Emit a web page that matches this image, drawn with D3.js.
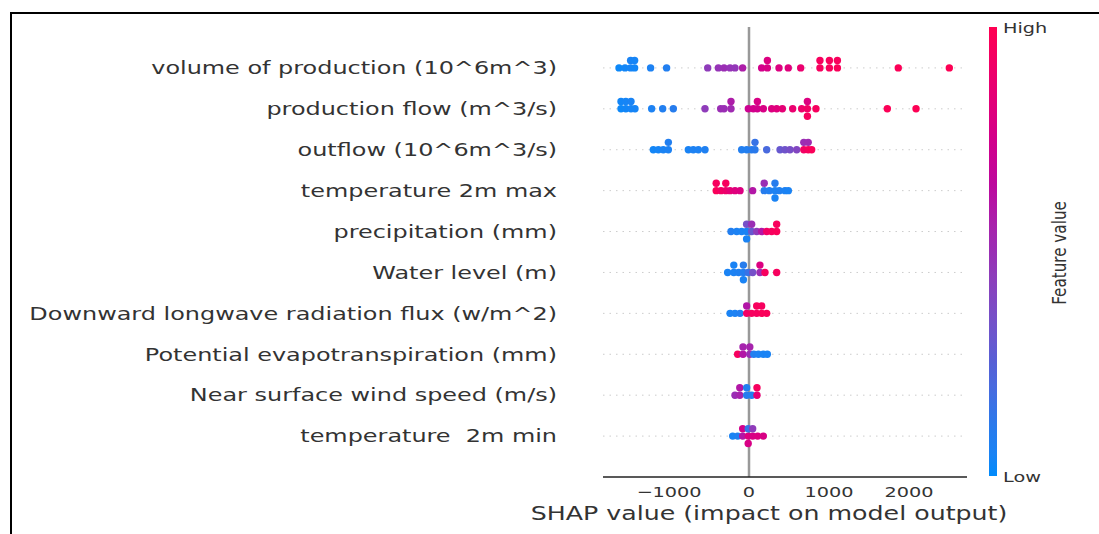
<!DOCTYPE html>
<html>
<head>
<meta charset="utf-8">
<script src="https://cdn.jsdelivr.net/npm/d3@7"></script>
<style>
  body { margin: 0; background: #fff; }
  svg { display: block; font-family: "DejaVu Sans", sans-serif; }
  text { white-space: pre; }
</style>
</head>
<body>
<svg id="chart" width="1099" height="534"></svg>
<script>
// features, top to bottom
const features = [
  "volume of production (10^6m^3)",
  "production flow (m^3/s)",
  "outflow (10^6m^3/s)",
  "temperature 2m max",
  "precipitation (mm)",
  "Water level (m)",
  "Downward longwave radiation flux (w/m^2)",
  "Potential evapotranspiration (mm)",
  "Near surface wind speed (m/s)",
  "temperature  2m min"
];

// SHAP values per feature (same order)
const shapValues = [
  [-1625, -1550, -1480, -1480, -1430, -1430, -1230, -1030, -516, -383, -312, -237, -175, -80, 158, 230, 230, 375, 491, 646, 887, 887, 1005, 1005, 1105, 1105, 1866, 2504],
  [-1600, -1600, -1540, -1540, -1475, -1475, -1425, -1217, -1079, -946, -550, -354, -312, -225, -225, -8, 54, 105, 105, 179, 283, 346, 417, 546, 658, 730, 730, 730, 837, 1729, 2088],
  [-1196, -1133, -1071, -1008, -1008, -758, -696, -633, -550, -92, -29, 33, 75, 75, 221, 388, 450, 512, 596, 685, 685, 740, 740, 783],
  [-410, -410, -350, -290, -290, -237, -175, -112, 46, 190, 190, 254, 325, 325, 325, 379, 450, 492],
  [-225, -154, -92, -30, -30, -30, 33, 33, 96, 158, 221, 283, 346, 346],
  [-267, -190, -190, -130, -70, -70, -70, -10, 46, 137, 137, 200, 346],
  [-237, -175, -112, -29, -29, 33, 96, 96, 158, 158, 221],
  [-142, -75, -75, 10, 10, 60, 117, 179, 229],
  [-175, -115, -115, -29, -29, 33, 100, 100],
  [-204, -142, -79, -79, -10, -10, -10, 46, 46, 108, 179]
];

// normalised feature values (0 = low, 1 = high)
const featureValues = [
  [0.02, 0.03, 0.04, 0.05, 0.03, 0.04, 0.06, 0.08, 0.45, 0.48, 0.5, 0.48, 0.47, 0.58, 0.75, 0.78, 0.8, 0.8, 0.82, 0.88, 0.95, 0.95, 0.96, 0.96, 0.97, 0.96, 0.98, 0.99],
  [0.02, 0.03, 0.03, 0.04, 0.04, 0.05, 0.04, 0.06, 0.08, 0.1, 0.45, 0.5, 0.5, 0.52, 0.58, 0.72, 0.75, 0.75, 0.78, 0.78, 0.8, 0.82, 0.85, 0.88, 0.9, 0.92, 0.8, 0.95, 0.95, 0.98, 0.99],
  [0.03, 0.04, 0.05, 0.06, 0.08, 0.05, 0.06, 0.06, 0.07, 0.08, 0.08, 0.1, 0.12, 0.15, 0.2, 0.3, 0.33, 0.36, 0.4, 0.93, 0.5, 0.95, 0.52, 0.97],
  [0.97, 0.95, 0.92, 0.9, 0.95, 0.85, 0.82, 0.8, 0.6, 0.1, 0.5, 0.08, 0.06, 0.1, 0.05, 0.07, 0.06, 0.05],
  [0.08, 0.06, 0.05, 0.05, 0.35, 0.05, 0.3, 0.5, 0.45, 0.6, 0.92, 0.95, 0.97, 0.96],
  [0.05, 0.06, 0.05, 0.07, 0.08, 0.1, 0.05, 0.15, 0.35, 0.5, 0.8, 0.95, 0.95],
  [0.05, 0.06, 0.08, 0.92, 0.6, 0.95, 0.95, 0.96, 0.97, 0.95, 0.97],
  [0.95, 0.6, 0.55, 0.5, 0.55, 0.08, 0.06, 0.05, 0.05],
  [0.5, 0.55, 0.6, 0.1, 0.08, 0.08, 0.85, 0.95],
  [0.05, 0.07, 0.6, 0.75, 0.8, 0.15, 0.78, 0.78, 0.45, 0.8, 0.78]
];

const xDomain = [-1825, 2725];
const xTicks = [-1000, 0, 1000, 2000];
const xTickLabels = ["\u22121000", "0", "1000", "2000"];
const colorbarLabels = ["Low", "High"];

const svg = d3.select("#chart");
const stretch = 1.33; // the picture is a little wider than tall

const x = d3.scaleLinear().domain(xDomain).range([603, 967]);
const y = d3.scaleLinear().domain([-1, features.length]).range([477, 27]);

// blue -> purple -> magenta -> red, picked off the colour bar
const cmap = d3.piecewise(d3.interpolateLab,
  ["#008bfb", "#2a78ea", "#5560d6", "#7b4bc4", "#9a2eb4", "#b70aa2", "#d2008b", "#ea0070", "#ff0052"]);

function stretchedText(g, px, py, str, size, anchor, fill, rotate) {
  const t = g.append("g")
      .attr("transform", `translate(${px},${py}) scale(${stretch},1)` + (rotate ? " rotate(-90)" : ""))
    .append("text")
      .attr("text-anchor", anchor)
      .attr("font-size", size)
      .attr("fill", fill)
      .attr("xml:space", "preserve")
      .text(str);
  return t;
}

// outer frame
svg.append("rect")
    .attr("x", 11).attr("y", 13)
    .attr("width", 1200).attr("height", 800)
    .attr("fill", "none").attr("stroke", "#000").attr("stroke-width", 2);

// dotted row guides
const N = features.length;
features.forEach((f, i) => {
  const pos = N - 1 - i;
  svg.append("line")
      .attr("x1", x.range()[0]).attr("x2", x.range()[1])
      .attr("y1", y(pos)).attr("y2", y(pos))
      .attr("stroke", "#cccccc").attr("stroke-width", 1)
      .attr("stroke-dasharray", "1.5,5");
});

// zero line
svg.append("line")
    .attr("x1", x(0)).attr("x2", x(0))
    .attr("y1", y(N)).attr("y2", y(-1))
    .attr("stroke", "#999999").attr("stroke-width", 2.5);

// beeswarm offsets as shap does them (bins of the row's range)
function swarm(vals) {
  const lo = d3.min(vals), hi = d3.max(vals), nb = 100;
  const q = vals.map(v => Math.round(nb * (v - lo) / (hi - lo + 1e-8)));
  const order = d3.range(vals.length).sort((a, b) => q[a] - q[b] || a - b);
  const ys = new Array(vals.length).fill(0);
  let layer = 0, last = -1;
  for (const k of order) {
    if (q[k] !== last) layer = 0;
    ys[k] = Math.ceil(layer / 2) * ((layer % 2) * 2 - 1);
    layer++;
    last = q[k];
  }
  const m = d3.max(ys, v => v + 1);
  return ys.map(v => v * 0.9 * (0.4 / m));
}

features.forEach((f, i) => {
  const pos = N - 1 - i;
  const vals = shapValues[i];
  const cols = featureValues[i];
  const off = swarm(vals);
  svg.append("g").selectAll("circle")
    .data(vals.map((v, k) => ({ v, c: cols[k], o: off[k] })))
    .join("circle")
      .attr("cx", d => x(d.v))
      .attr("cy", d => y(pos + d.o))
      .attr("r", 3.7)
      .attr("fill", d => cmap(d.c));

  stretchedText(svg, 557, y(pos) + 6.3, f, 18, "end", "#333333");
});

// x axis
svg.append("line")
    .attr("x1", x.range()[0]).attr("x2", x.range()[1])
    .attr("y1", y(-1)).attr("y2", y(-1))
    .attr("stroke", "#222").attr("stroke-width", 1.3);

xTicks.forEach((t, k) => {
  stretchedText(svg, x(t), y(-1) + 20, xTickLabels[k], 14.5, "middle", "#333333");
});

stretchedText(svg, 769, 520, "SHAP value (impact on model output)", 19, "middle", "#333333");

// colour bar
const defs = svg.append("defs");
const grad = defs.append("linearGradient")
    .attr("id", "cbar").attr("x1", 0).attr("x2", 0).attr("y1", 1).attr("y2", 0);
d3.range(0, 1.0001, 0.05).forEach(t => {
  grad.append("stop").attr("offset", t).attr("stop-color", cmap(t));
});
svg.append("rect")
    .attr("x", 989).attr("y", 27)
    .attr("width", 8).attr("height", 449)
    .attr("fill", "url(#cbar)");

stretchedText(svg, 1003, 482, colorbarLabels[0], 14.5, "start", "#333333");
stretchedText(svg, 1003, 33, colorbarLabels[1], 14.5, "start", "#333333");
stretchedText(svg, 1066, 253, "Feature value", 15.2, "middle", "#333333", true);
</script>
</body>
</html>
